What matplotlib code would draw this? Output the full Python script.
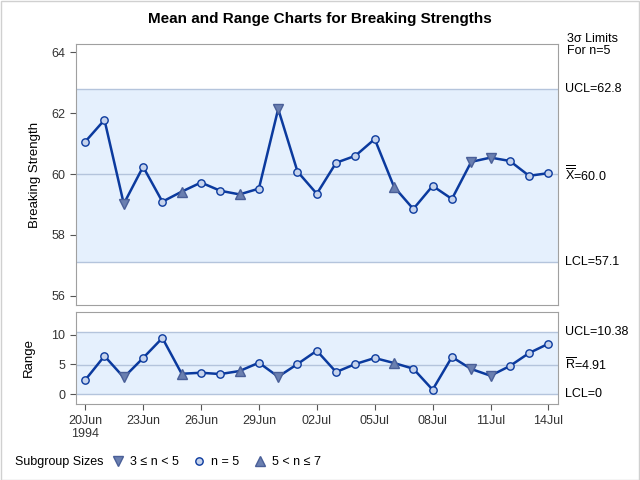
import numpy as np
import pandas as pd
import matplotlib
matplotlib.use("Agg")
import matplotlib.pyplot as plt
from matplotlib.lines import Line2D

plt.rcParams['font.family'] = ['Liberation Sans', 'DejaVu Sans']
plt.rcParams['mathtext.fontset'] = 'custom'
plt.rcParams['mathtext.rm'] = 'Liberation Sans'
plt.rcParams['mathtext.it'] = 'Liberation Sans'

# subgroup data, 20Jun1994 .. 14Jul1994
dates = pd.date_range("1994-06-20", "1994-07-14", freq="D")
means = [61.06, 61.78, 59.02, 60.24, 59.09, 59.42, 59.72, 59.45, 59.33, 59.52,
         62.14, 60.08, 59.35, 60.37, 60.60, 61.15, 59.58, 58.85, 59.61, 59.18,
         60.40, 60.54, 60.43, 59.94, 60.03]
ranges = [2.36, 6.41, 2.80, 6.07, 9.44, 3.42, 3.59, 3.37, 3.88, 5.28,
          2.92, 5.06, 7.30, 3.71, 5.06, 6.07, 5.23, 4.27, 0.73, 6.24,
          4.22, 3.09, 4.72, 6.91, 8.48]
# 'lo' = 3<=n<5, 'eq' = n=5, 'hi' = 5<n<=7
sizes = ['eq', 'eq', 'lo', 'eq', 'eq', 'hi', 'eq', 'eq', 'hi', 'eq',
         'lo', 'eq', 'eq', 'eq', 'eq', 'eq', 'hi', 'eq', 'eq', 'eq',
         'lo', 'lo', 'eq', 'eq', 'eq']
xbar_lim = (57.1, 60.0, 62.8)   # LCL, center, UCL
r_lim = (0, 4.91, 10.38)
tick_dates = ["1994-06-20", "1994-06-23", "1994-06-26", "1994-06-29", "1994-07-02",
              "1994-07-05", "1994-07-08", "1994-07-11", "1994-07-14"]
tick_labels = ["20Jun\n1994", "23Jun", "26Jun", "29Jun", "02Jul",
               "05Jul", "08Jul", "11Jul", "14Jul"]

line_c = '#0b3a9e'
band_c = '#e5f0fd'
ref_c = '#b4c4dc'
frame_c = '#a0a0a0'
styles = {'lo': dict(marker='v', ms=7.5, mfc='#6a7fb0', mec='#4a5f98'),
          'eq': dict(marker='o', ms=5.3, mfc='#c6d3ec', mec=line_c),
          'hi': dict(marker='^', ms=7.5, mfc='#6a7fb0', mec='#4a5f98')}

fig = plt.figure(figsize=(6.4, 4.8), dpi=100)
ax1 = fig.add_axes([0.118, 0.365, 0.754, 0.543])
ax2 = fig.add_axes([0.118, 0.158, 0.754, 0.193])

day0 = dates[0]
x = np.array([(d - day0).days for d in dates])


def draw(ax, vals, lims):
    lcl, cl, ucl = lims
    ax.axhspan(lcl, ucl, color=band_c, lw=0, zorder=0)
    for v in lims:
        ax.axhline(v, color=ref_c, lw=1, zorder=1)
    ax.plot(x, vals, color=line_c, lw=1.8, zorder=2)
    for key, st in styles.items():
        idx = [i for i, s in enumerate(sizes) if s == key]
        ax.plot(x[idx], np.array(vals)[idx], ls='none', zorder=3, **st)
    ax.set_xlim(-0.5, 24.5)
    for sp in ax.spines.values():
        sp.set_color(frame_c)
    ax.tick_params(colors='#333333', labelsize=9, length=4, color='#555555')


draw(ax1, means, xbar_lim)
ax1.set_ylim(55.7, 64.27)
ax1.set_yticks([56, 58, 60, 62, 64])
ax1.set_xticks([])
ax1.set_ylabel("Breaking Strength", fontsize=9.5, labelpad=7)

draw(ax2, ranges, r_lim)
ax2.set_ylim(-1.7, 13.9)
ax2.set_yticks([0, 5, 10])
tx = [(pd.Timestamp(t) - day0).days for t in tick_dates]
ax2.set_xticks(tx)
ax2.set_xticklabels(tick_labels, fontsize=9)
ax2.set_ylabel("Range", fontsize=9.5, labelpad=12)

fig.suptitle("Mean and Range Charts for Breaking Strengths", fontsize=11,
             fontweight='bold', x=0.5, y=0.975)

# limit labels on the right
tr1 = ax1.get_yaxis_transform()
tr2 = ax2.get_yaxis_transform()
kw = dict(fontsize=9, va='center', ha='left')
fig.text(0.886, 1 - 45 / 480, "3σ Limits\nFor n=5", fontsize=9, va='center', ha='left',
         linespacing=1.1)
ax1.text(1.015, xbar_lim[2], "UCL=62.8", transform=tr1, **kw)
ax1.text(1.015, xbar_lim[1], r"$\overline{\overline{\mathrm{X}}}$=60.0", transform=tr1, **kw)
ax1.text(1.015, xbar_lim[0], "LCL=57.1", transform=tr1, **kw)
ax2.text(1.015, r_lim[2], "UCL=10.38", transform=tr2, **kw)
ax2.text(1.015, r_lim[1], r"$\overline{\mathrm{R}}$=4.91", transform=tr2, **kw)
ax2.text(1.015, r_lim[0], "LCL=0", transform=tr2, **kw)

# legend
fig.text(15 / 640, 1 - 462 / 480, "Subgroup Sizes", fontsize=9, va='center', ha='left')
handles = [Line2D([], [], ls='none', **styles['lo']),
           Line2D([], [], ls='none', **styles['eq']),
           Line2D([], [], ls='none', **styles['hi'])]
fig.legend(handles, ["3 ≤ n < 5", "n = 5", "5 < n ≤ 7"], loc='center left',
           bbox_to_anchor=(100 / 640, 1 - 462 / 480), ncol=3, frameon=False,
           fontsize=9, handlelength=1.0, handletextpad=0.5, columnspacing=1.1)

fig.add_artist(plt.Rectangle((0.001, 0.001), 0.997, 0.997, transform=fig.transFigure,
                             fill=False, ec='#d0d0d0', lw=1))

fig.savefig("out.png", dpi=100)
